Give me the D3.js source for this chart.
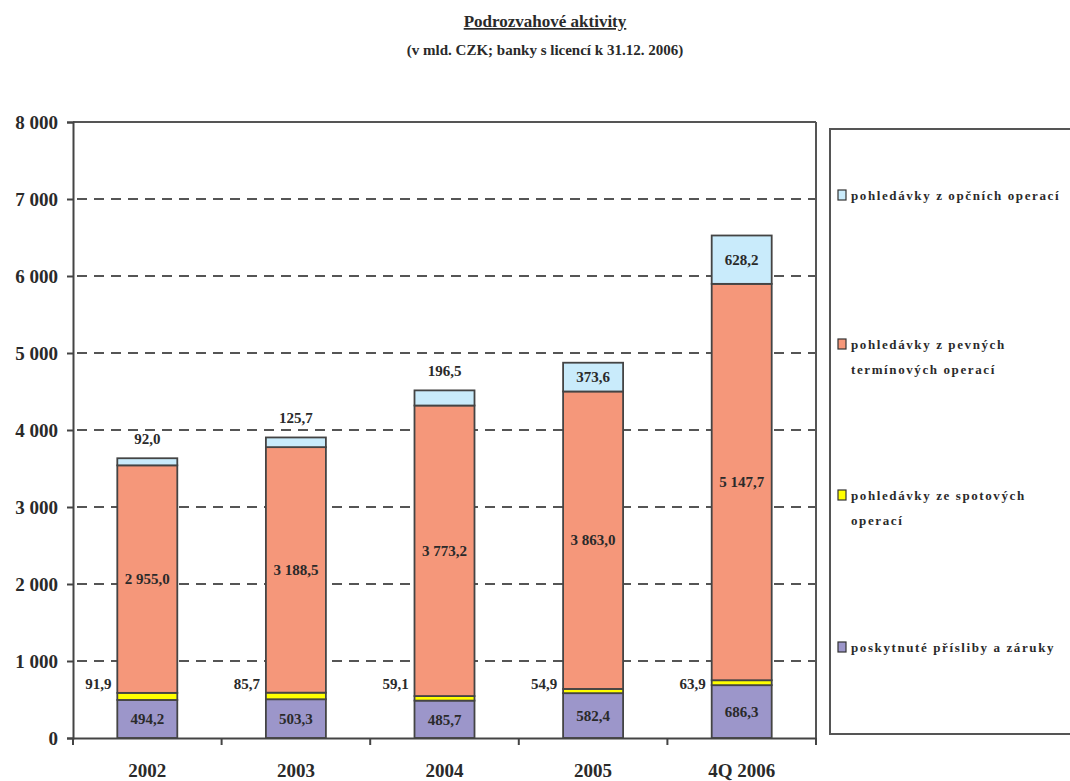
<!DOCTYPE html>
<html>
<head>
<meta charset="utf-8">
<script src="https://cdn.jsdelivr.net/npm/d3@7"></script>
<style>
	body { margin: 0; background: #fff; }
	svg text { font-family: "Liberation Serif", "Times New Roman", Times, Tinos, "Noto Serif", "DejaVu Serif", FreeSerif, serif; fill: #2a2a2a; font-weight: bold; }
</style>
</head>
<body>
<div id="chart"></div>
<script>
// data
var categories = ['2002', '2003', '2004', '2005', '4Q 2006'];
var zaruky = [494.2, 503.3, 485.7, 582.4, 686.3];
var spotove = [91.9, 85.7, 59.1, 54.9, 63.9];
var terminove = [2955.0, 3188.5, 3773.2, 3863.0, 5147.7];
var opcni = [92.0, 125.7, 196.5, 373.6, 628.2];
var yTicks = [0, 1000, 2000, 3000, 4000, 5000, 6000, 7000, 8000];

var colors = ['#9c96ca', '#ffff00', '#f5977a', '#c9ebfb'];
var keys = ['zaruky', 'spotove', 'terminove', 'opcni'];

var svgWidth = 1070,
	svgHeight = 781;

var plot = { left: 73, right: 816, top: 122, bottom: 738 };

var svg = d3.select('#chart').append('svg')
	.attr('width', svgWidth)
	.attr('height', svgHeight);

var cz = d3.formatLocale({ decimal: ',', thousands: ' ', grouping: [3], currency: ['', ' Kč'] });
var fmt1 = cz.format(',.1f'),
	fmt0 = cz.format(',.0f');

var table = categories.map((c, i) => ({
	cat: c, zaruky: zaruky[i], spotove: spotove[i], terminove: terminove[i], opcni: opcni[i]
}));
var stacked = d3.stack().keys(keys)(table);

var xScale = d3.scaleBand().domain(categories).range([plot.left, plot.right]);
var yScale = d3.scaleLinear().domain([0, 8000]).range([plot.bottom, plot.top]);
var barW = 60;
var barX = c => xScale(c) + (xScale.bandwidth() - barW) / 2;

// title
svg.append('text')
	.attr('x', 545).attr('y', 27)
	.attr('text-anchor', 'middle')
	.style('font-size', '17px')
	.style('text-decoration', 'underline')
	.text('Podrozvahové aktivity');
svg.append('text')
	.attr('x', 545).attr('y', 55)
	.attr('text-anchor', 'middle')
	.style('font-size', '15px')
	.text('(v mld. CZK; banky s licencí k 31.12. 2006)');

// gridlines
svg.append('g').selectAll('line')
	.data(yTicks.filter(t => t > 0 && t < 8000))
	.enter().append('line')
	.attr('x1', plot.left + 4).attr('x2', plot.right)
	.attr('y1', d => yScale(d)).attr('y2', d => yScale(d))
	.attr('stroke', '#555').attr('stroke-width', 2)
	.attr('stroke-dasharray', '10,7');

// frame
svg.append('line').attr('x1', plot.left).attr('x2', plot.right)
	.attr('y1', plot.top).attr('y2', plot.top)
	.attr('stroke', '#555').attr('stroke-width', 2);
svg.append('line').attr('x1', plot.right).attr('x2', plot.right)
	.attr('y1', plot.top).attr('y2', plot.bottom)
	.attr('stroke', '#555').attr('stroke-width', 2);

// y axis
var yAxis = svg.append('g')
	.attr('transform', `translate(${plot.left},0)`)
	.call(d3.axisLeft(yScale).tickValues(yTicks).tickFormat(fmt0).tickSize(6).tickPadding(9));
yAxis.attr('font-family', null).attr('font-size', null);
yAxis.select('.domain').attr('stroke', '#444').attr('stroke-width', 2);
yAxis.selectAll('.tick line').attr('stroke', '#444').attr('stroke-width', 2);
yAxis.selectAll('.tick text').style('font-size', '19px').attr('fill', '#2a2a2a');

// bars
var layers = svg.append('g').selectAll('g')
	.data(stacked)
	.enter().append('g')
	.attr('fill', (d, i) => colors[i]);

layers.selectAll('rect')
	.data(d => d)
	.enter().append('rect')
	.attr('x', d => barX(d.data.cat))
	.attr('width', barW)
	.attr('y', d => yScale(d[1]))
	.attr('height', d => yScale(d[0]) - yScale(d[1]))
	.attr('stroke', '#444')
	.attr('stroke-width', 1.8);

// x axis
var xAxis = svg.append('g')
	.attr('transform', `translate(0,${plot.bottom})`)
	.call(d3.axisBottom(xScale).tickSize(0).tickPadding(26));
xAxis.attr('font-family', null).attr('font-size', null);
xAxis.select('.domain').attr('stroke', '#444').attr('stroke-width', 2);
xAxis.selectAll('.tick text').style('font-size', '19px').attr('fill', '#2a2a2a');
// category separators
svg.append('g').selectAll('line')
	.data(categories.slice(1).concat(['end']))
	.enter().append('line')
	.attr('x1', d => d === 'end' ? plot.right : xScale(d))
	.attr('x2', d => d === 'end' ? plot.right : xScale(d))
	.attr('y1', plot.bottom).attr('y2', plot.bottom + 7)
	.attr('stroke', '#444').attr('stroke-width', 2);
svg.append('line').attr('x1', plot.left).attr('x2', plot.left)
	.attr('y1', plot.bottom).attr('y2', plot.bottom + 7)
	.attr('stroke', '#444').attr('stroke-width', 2);

// data labels
var labels = svg.append('g').style('font-size', '15px');
var cx = c => xScale(c) + xScale.bandwidth() / 2;

// purple + orange inside
[0, 2].forEach(k => {
	labels.selectAll(null)
		.data(stacked[k])
		.enter().append('text')
		.attr('x', d => cx(d.data.cat))
		.attr('y', d => (yScale(d[0]) + yScale(d[1])) / 2)
		.attr('dy', '0.35em')
		.attr('text-anchor', 'middle')
		.text(d => fmt1(d[1] - d[0]));
});

// yellow labels left of bar
labels.selectAll(null)
	.data(stacked[1])
	.enter().append('text')
	.attr('x', d => barX(d.data.cat) - 19)
	.attr('y', yScale(710))
	.attr('dy', '0.35em')
	.attr('text-anchor', 'middle')
	.text(d => fmt1(d[1] - d[0]));

// blue labels: inside when tall enough, else above
labels.selectAll(null)
	.data(stacked[3])
	.enter().append('text')
	.attr('x', d => cx(d.data.cat))
	.attr('y', d => {
		var h = yScale(d[0]) - yScale(d[1]);
		return h > 24 ? (yScale(d[0]) + yScale(d[1])) / 2 : yScale(d[1]) - 20;
	})
	.attr('dy', '0.35em')
	.attr('text-anchor', 'middle')
	.text(d => fmt1(d[1] - d[0]));

// legend
svg.append('rect')
	.attr('x', 830).attr('y', 129)
	.attr('width', 260).attr('height', 605)
	.attr('fill', 'none').attr('stroke', '#555').attr('stroke-width', 2);

var legendItems = [
	{ i: 3, y: 195, lines: ['pohledávky z opčních operací'] },
	{ i: 2, y: 344, lines: ['pohledávky z pevných', 'termínových operací'] },
	{ i: 1, y: 495, lines: ['pohledávky ze spotových', 'operací'] },
	{ i: 0, y: 647, lines: ['poskytnuté přísliby a záruky'] }
];
var leg = svg.append('g').selectAll('g')
	.data(legendItems)
	.enter().append('g')
	.attr('transform', d => `translate(838,${d.y})`);
leg.append('rect')
	.attr('x', 0).attr('y', -5)
	.attr('width', 8).attr('height', 10)
	.attr('fill', d => colors[d.i])
	.attr('stroke', '#333').attr('stroke-width', 1.2);
leg.each(function(d) {
	var t = d3.select(this).append('text')
		.attr('x', 13).attr('y', 0)
		.style('font-size', '13px')
		.style('letter-spacing', '1.6px');
	d.lines.forEach((l, j) => {
		t.append('tspan').attr('x', 13).attr('dy', j === 0 ? '0.35em' : '25px').text(l);
	});
});
</script>
</body>
</html>
